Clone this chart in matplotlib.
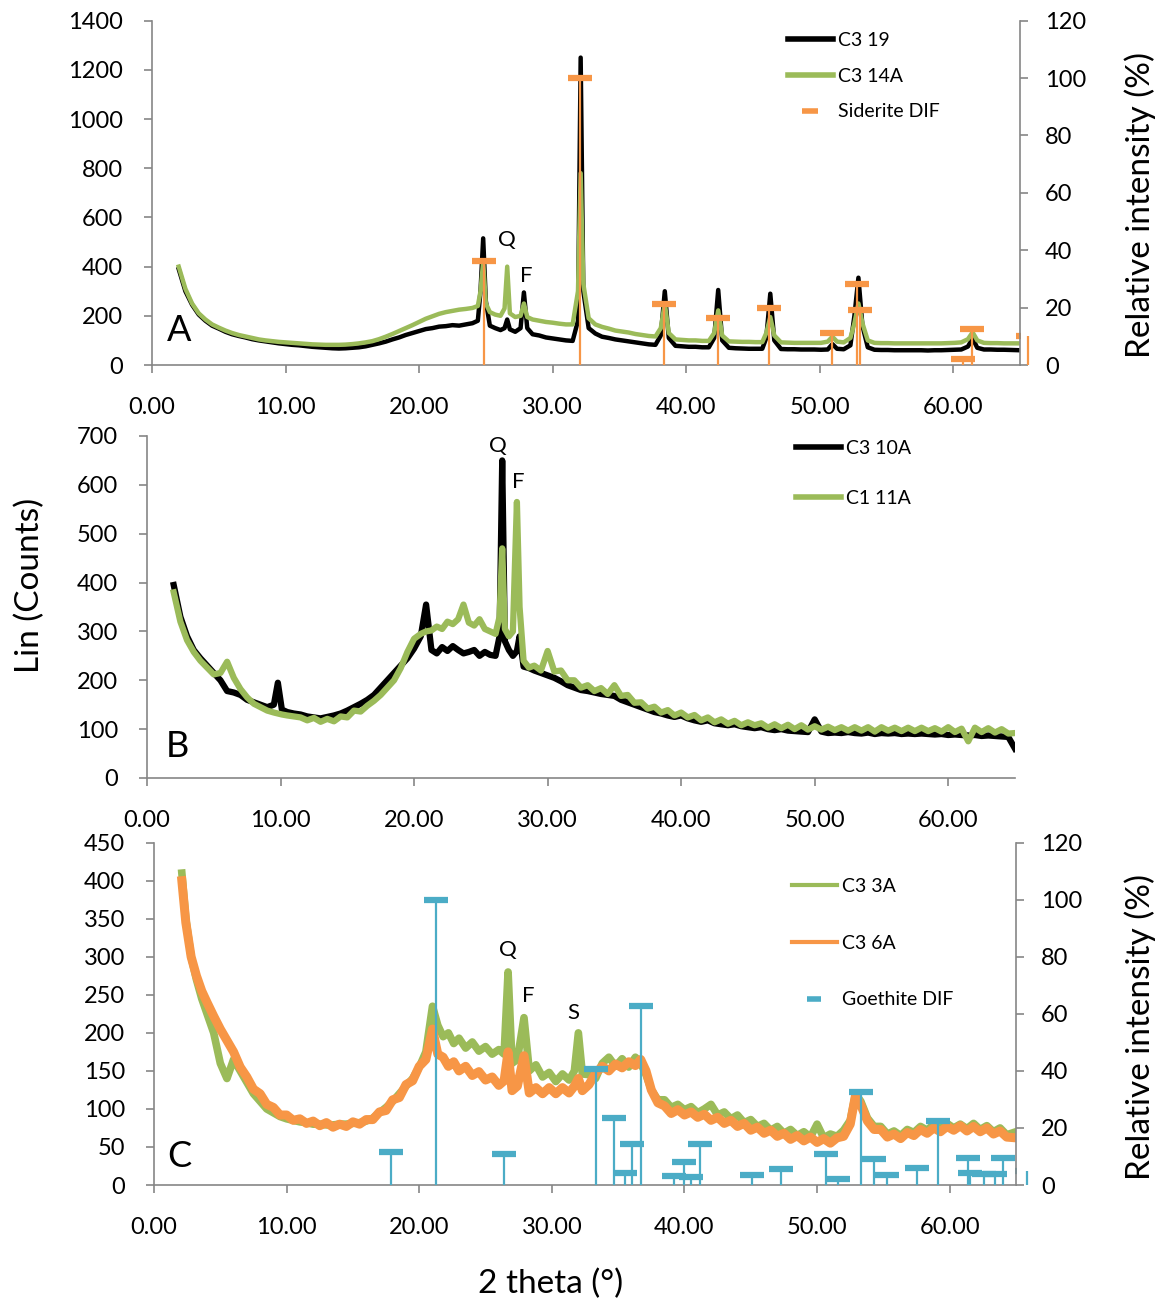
import matplotlib
matplotlib.use("Agg")
import matplotlib.pyplot as plt
import numpy as np
from matplotlib.lines import Line2D
from matplotlib.ticker import FormatStrFormatter

plt.rcParams["font.family"] = ["Lato", "DejaVu Sans"]

W, H = 1172, 1306
GREEN = "#9BBB59"
ORANGE = "#F79646"
CYAN = "#4BACC6"
GRAY = "#868686"

# ---------------- Panel A : C3 19 / C3 14A + siderite DIF ----------------
theta_a = [
    2.0, 2.5, 3.0, 3.5, 4.0, 4.5, 5.0, 5.5, 6.0, 6.5,
    7.0, 7.5, 8.0, 8.5, 9.0, 9.5, 10.0, 10.5, 11.0, 11.5,
    12.0, 12.5, 13.0, 13.5, 14.0, 14.5, 15.0, 15.5, 16.0, 16.5,
    17.0, 17.5, 18.0, 18.5, 19.0, 19.5, 20.0, 20.5, 21.0, 21.5,
    22.0, 22.5, 23.0, 23.5, 24.0, 24.4, 24.6, 24.8, 25.0, 25.3,
    25.7, 26.1, 26.4, 26.6, 26.8, 27.2, 27.6, 27.85, 28.1, 28.5,
    29.0, 29.5, 30.0, 30.5, 31.0, 31.5, 31.9, 32.1, 32.3, 32.7,
    33.2, 33.7, 34.2, 34.7, 35.2, 35.7, 36.2, 36.7, 37.2, 37.7,
    38.1, 38.4, 38.7, 39.2, 39.7, 40.2, 40.7, 41.2, 41.7, 42.1,
    42.4, 42.7, 43.2, 43.7, 44.2, 44.7, 45.2, 45.7, 46.0, 46.3,
    46.6, 47.1, 47.6, 48.1, 48.6, 49.1, 49.6, 50.1, 50.6, 50.95,
    51.3, 51.8, 52.3, 52.6, 52.9, 53.2, 53.6, 54.1, 54.6, 55.1,
    55.6, 56.1, 56.6, 57.1, 57.6, 58.1, 58.6, 59.1, 59.6, 60.1,
    60.6, 61.1, 61.45, 61.8, 62.3, 62.8, 63.3, 63.8, 64.3, 65.0,
]
c3_19 = [
    390, 300, 245, 205, 180, 160, 148, 135, 125, 118,
    112, 105, 100, 96, 92, 88, 85, 82, 80, 77,
    74, 72, 70, 68, 67, 68, 70, 72, 76, 82,
    88, 95, 104, 112, 122, 130, 138, 146, 150, 156,
    158, 162, 160, 165, 170, 180, 300, 515, 260, 160,
    150, 142, 150, 185, 145, 135, 150, 295, 150, 125,
    120, 112, 108, 104, 100, 98, 180, 1250, 300, 150,
    128, 115, 110, 104, 100, 96, 92, 88, 84, 82,
    120, 300, 110, 78, 76, 74, 74, 72, 72, 110,
    305, 100, 70, 68, 67, 66, 66, 66, 110, 290,
    100, 65, 64, 64, 63, 63, 63, 62, 63, 85,
    66, 64, 80, 200, 355, 160, 72, 62, 61, 61,
    60, 60, 60, 60, 60, 59, 60, 60, 61, 62,
    63, 75, 108, 70, 63, 63, 62, 62, 61, 60,
]
c3_14a = [
    400, 310, 250, 210, 185, 165, 152, 140, 130, 122,
    116, 110, 104, 100, 97, 94, 92, 90, 88, 86,
    84, 83, 82, 82, 82, 83, 85, 88, 92, 97,
    105, 115, 126, 138, 150, 162, 175, 188, 198, 208,
    215, 220, 225, 228, 232, 240, 300, 420, 250, 215,
    205, 200, 230, 400, 210, 195, 200, 250, 195, 185,
    180, 175, 172, 168, 165, 165, 300, 780, 330, 190,
    165, 155, 148, 140, 136, 132, 126, 122, 118, 116,
    150, 250, 130, 104, 102, 100, 100, 98, 98, 130,
    222, 120, 96, 95, 94, 94, 93, 93, 130, 195,
    120, 92, 91, 90, 90, 90, 90, 90, 95, 115,
    95, 92, 110, 170, 250, 170, 100, 90, 89, 89,
    88, 88, 88, 88, 88, 88, 88, 88, 89, 90,
    92, 105, 133, 100, 90, 89, 89, 88, 88, 88,
]
siderite_theta = [24.83, 32.08, 38.35, 42.42, 46.24, 50.95, 52.8, 53.0, 60.76, 61.44, 65.6]
siderite_rel = [36.4, 100, 21.4, 16.4, 19.7, 11.0, 28.3, 19.1, 2.0, 12.4, 10.0]

# ---------------- Panel B : C3 10A / C1 11A ----------------
theta_b = [
    2.0, 2.5, 3.0, 3.5, 4.0, 4.5, 5.0, 5.5, 6.0, 6.5,
    7.0, 7.5, 8.0, 8.5, 9.0, 9.5, 9.8, 10.1, 10.5, 11.0,
    11.5, 12.0, 12.5, 13.0, 13.5, 14.0, 14.5, 15.0, 15.5, 16.0,
    16.5, 17.0, 17.5, 18.0, 18.5, 19.0, 19.5, 20.0, 20.5, 20.9,
    21.3, 21.7, 22.1, 22.5, 22.9, 23.3, 23.7, 24.1, 24.5, 24.9,
    25.3, 25.7, 26.1, 26.4, 26.6, 26.8, 27.1, 27.4, 27.7, 27.9,
    28.2, 28.6, 29.0, 29.5, 30.0, 30.5, 31.0, 31.5, 32.0, 32.5,
    33.0, 33.5, 34.0, 34.5, 35.0, 35.5, 36.0, 36.5, 37.0, 37.5,
    38.0, 38.5, 39.0, 39.5, 40.0, 40.5, 41.0, 41.5, 42.0, 42.5,
    43.0, 43.5, 44.0, 44.5, 45.0, 45.5, 46.0, 46.5, 47.0, 47.5,
    48.0, 48.5, 49.0, 49.5, 50.0, 50.5, 51.0, 51.5, 52.0, 52.5,
    53.0, 53.5, 54.0, 54.5, 55.0, 55.5, 56.0, 56.5, 57.0, 57.5,
    58.0, 58.5, 59.0, 59.5, 60.0, 60.5, 61.0, 61.5, 62.0, 62.5,
    63.0, 63.5, 64.0, 64.5, 65.0,
]
c3_10a = [
    395, 330, 290, 262, 245, 230, 215, 200, 178, 175,
    170, 160, 155, 150, 145, 150, 195, 140, 135, 132,
    130, 126, 124, 122, 125, 128, 132, 138, 145, 152,
    160, 170, 185, 200, 215, 230, 245, 265, 290, 355,
    262, 255, 268, 260, 270, 262, 255, 258, 262, 250,
    258, 252, 250, 290, 650, 280, 262, 250, 260, 290,
    228, 225, 220, 215, 210, 205, 198, 190, 185, 180,
    178, 175, 172, 170, 168, 160, 155, 150, 145, 140,
    135, 132, 128, 125, 128, 122, 118, 115, 118, 112,
    110, 108, 110, 106, 104, 102, 104, 100, 98, 100,
    97, 96, 95, 94, 120, 95, 92, 93, 92, 94,
    92, 91, 93, 90, 92, 91, 92, 90, 91, 90,
    91, 90, 89, 90, 88, 89, 88, 87, 88, 86,
    87, 86, 85, 84, 60,
]
c1_11a = [
    380, 320, 282, 258, 240, 226, 212, 215, 238, 205,
    182, 165, 152, 145, 138, 134, 132, 130, 128, 126,
    124, 118, 123, 115, 121, 116, 126, 124, 138, 136,
    148, 158, 170, 185, 200, 225, 258, 285, 295, 300,
    302, 310, 305, 320, 315, 325, 355, 318, 312, 325,
    305, 300, 295, 330, 470, 305, 290, 300, 565, 350,
    240, 226, 230, 220, 260, 218, 220, 200, 200, 185,
    190, 178, 184, 172, 190, 168, 170, 154, 155, 142,
    146, 134, 139, 128, 134, 124, 129, 118, 124, 114,
    120, 111, 117, 108, 114, 108, 112, 103, 110, 102,
    109, 100, 108, 99, 106, 99, 105, 98, 104, 97,
    104, 97, 104, 95, 104, 97, 103, 96, 103, 96,
    103, 96, 102, 95, 104, 94, 101, 75, 103, 94,
    102, 93, 100, 91, 92,
]

# ---------------- Panel C : C3 3A / C3 6A + goethite DIF ----------------
theta_c = [
    2.1, 2.4, 2.8, 3.2, 3.6, 4.0, 4.5, 5.0, 5.5, 6.0,
    6.5, 7.0, 7.5, 8.0, 8.5, 9.0, 9.5, 10.0, 10.5, 11.0,
    11.5, 12.0, 12.5, 13.0, 13.5, 14.0, 14.5, 15.0, 15.5, 16.0,
    16.5, 17.0, 17.5, 18.0, 18.5, 19.0, 19.5, 20.0, 20.5, 21.0,
    21.4, 21.8, 22.2, 22.6, 23.0, 23.5, 24.0, 24.5, 25.0, 25.5,
    26.0, 26.4, 26.7, 27.0, 27.4, 27.9, 28.3, 28.8, 29.3, 29.8,
    30.3, 30.8, 31.3, 31.7, 32.0, 32.3, 32.8, 33.3, 33.8, 34.3,
    34.8, 35.3, 35.8, 36.3, 36.7, 37.1, 37.5, 38.0, 38.5, 39.0,
    39.5, 40.0, 40.5, 41.0, 41.5, 42.0, 42.5, 43.0, 43.5, 44.0,
    44.5, 45.0, 45.5, 46.0, 46.5, 47.0, 47.5, 48.0, 48.5, 49.0,
    49.5, 50.0, 50.5, 51.0, 51.5, 52.0, 52.5, 52.9, 53.3, 53.8,
    54.3, 54.8, 55.3, 55.8, 56.3, 56.8, 57.3, 57.8, 58.3, 58.8,
    59.3, 59.8, 60.3, 60.8, 61.3, 61.8, 62.3, 62.8, 63.3, 63.8,
    64.3, 65.0,
]
c3_3a = [
    410, 350, 300, 270, 245, 225, 200, 160, 140, 165,
    150, 135, 120, 110, 100, 95, 90, 87, 85, 83,
    82, 80, 80, 79, 79, 80, 80, 81, 82, 84,
    88, 95, 102, 110, 120, 130, 140, 155, 175, 235,
    210, 195, 200, 186, 193, 180, 188, 176, 182, 172,
    178, 172, 280, 160, 165, 220, 150, 158, 142, 148,
    136, 146, 138, 150, 200, 146, 145, 140, 160, 168,
    156, 166, 155, 168, 160, 145, 125, 112, 112, 102,
    106, 99, 103, 95, 100, 106, 92, 96, 87, 92,
    82, 86, 77, 81, 72, 77, 68, 73, 65, 70,
    63, 80, 62, 67, 64, 72, 85, 120, 110, 88,
    77, 77, 67, 71, 65, 73, 69, 77, 72, 80,
    74, 81, 75, 80, 74, 81, 73, 78, 70, 75,
    66, 70,
]
c3_6a = [
    400, 345, 300, 275, 255, 240, 222, 205, 190, 175,
    155, 142, 126, 120, 106, 102, 92, 92, 85, 87,
    81, 84, 78, 82, 76, 80, 77, 83, 80, 86,
    86, 96, 98, 112, 115, 132, 137, 156, 165, 205,
    172, 168, 156, 162, 150, 156, 144, 149, 138, 142,
    131, 137, 175, 124, 130, 170, 121, 128, 120, 128,
    120, 128, 121, 130, 140, 124, 132, 147, 156, 150,
    159, 154, 162, 157, 165, 150, 125, 108, 104, 94,
    99, 92, 96, 89, 93, 85, 89, 81, 85, 77,
    81, 72, 76, 68, 72, 64, 68, 60, 65, 58,
    63, 56, 61, 55, 62, 64, 80, 118, 105, 84,
    73, 73, 63, 67, 61, 69, 65, 73, 68, 75,
    70, 77, 72, 78, 71, 77, 70, 75, 67, 71,
    63, 62,
]
goethite_theta = [17.9, 21.3, 26.4, 33.3, 34.7, 35.5, 36.05, 36.7, 39.2, 40.0,
                  40.5, 41.2, 45.1, 47.3, 50.7, 51.6, 53.3, 54.3, 55.3, 57.5,
                  59.1, 61.4, 61.5, 62.6, 63.4, 64.0, 65.8]
goethite_rel = [11.6, 100, 11.0, 40.8, 23.4, 4.3, 14.5, 62.7, 3.2, 8.2,
                2.8, 14.5, 3.4, 5.7, 11.0, 2.2, 32.7, 9.0, 3.5, 6.1,
                22.4, 9.6, 4.3, 3.7, 3.7, 9.6, 5.0]


def px_box(left, right, bottom, top):
    return [left / W, 1 - bottom / H, (right - left) / W, (bottom - top) / H]


def style_axes(ax, ymax, ystep):
    ax.set_xlim(0, 65)
    ax.set_ylim(0, ymax)
    ax.set_xticks(np.arange(0, 61, 10))
    ax.xaxis.set_major_formatter(FormatStrFormatter("%.2f"))
    ax.set_yticks(np.arange(0, ymax + 1, ystep))
    ax.set_facecolor("none")
    for s in ["top", "right"]:
        ax.spines[s].set_visible(False)
    for s in ["left", "bottom"]:
        ax.spines[s].set_color(GRAY)
        ax.spines[s].set_linewidth(1.2)
    ax.tick_params(axis="y", direction="out", length=6, width=1.2, color=GRAY,
                   labelsize=17, pad=15)
    ax.tick_params(axis="x", direction="out", length=6, width=1.2, color=GRAY,
                   labelsize=17, pad=17)


def add_dif_axis(ax, theta, rel, color):
    ax2 = ax.twinx()
    ax2.set_ylim(0, 120)
    ax2.set_yticks(np.arange(0, 121, 20))
    for s in ["top", "left", "bottom"]:
        ax2.spines[s].set_visible(False)
    ax2.spines["right"].set_color(GRAY)
    ax2.spines["right"].set_linewidth(1.2)
    ax2.tick_params(axis="y", direction="out", length=6, width=1.2, color=GRAY,
                    labelsize=17, pad=12)
    ax2.vlines(theta, 0, rel, color=color, lw=1.6, clip_on=False)
    ax2.plot(theta, rel, ls="none", marker="_", ms=17, mew=4.5, color=color)
    return ax2


fig = plt.figure(figsize=(W / 100, H / 100), dpi=100)

# ---- A ----
ax_a = fig.add_axes(px_box(152, 1020, 365, 20.7))
style_axes(ax_a, 1400, 200)
ax_a.plot(theta_a, c3_19, color="black", lw=3.2, label="C3 19")
ax_a.plot(theta_a, c3_14a, color=GREEN, lw=3.2, label="C3 14A")
ax_a2 = add_dif_axis(ax_a, siderite_theta, siderite_rel, ORANGE)
ax_a.text(26.6, 508, "Q", fontsize=16, ha="center", va="center")
ax_a.text(28.0, 362, "F", fontsize=16, ha="center", va="center")
ax_a.text(2.0, 142, "A", fontsize=26, ha="center", va="center")
h_a = [Line2D([], [], color="black", lw=4),
       Line2D([], [], color=GREEN, lw=4),
       Line2D([], [], color=ORANGE, ls="none", marker="_", ms=12, mew=4)]
ax_a2.legend(h_a, ["C3 19", "C3 14A", "Siderite DIF"], loc="upper left",
             bbox_to_anchor=(788 / W, 1 - 32 / H), bbox_transform=fig.transFigure,
             frameon=False, fontsize=14, borderpad=0, borderaxespad=0,
             handlelength=2.3, handletextpad=0.25, labelspacing=0.96)

# ---- B ----
ax_b = fig.add_axes(px_box(147, 1015, 778, 436))
style_axes(ax_b, 700, 100)
ax_b.plot(theta_b, c3_10a, color="black", lw=4.5, label="C3 10A")
ax_b.plot(theta_b, c1_11a, color=GREEN, lw=4.5, label="C1 11A")
ax_b.text(26.3, 679, "Q", fontsize=16, ha="center", va="center")
ax_b.text(27.8, 605, "F", fontsize=16, ha="center", va="center")
ax_b.text(2.3, 65, "B", fontsize=26, ha="center", va="center")
h_b = [Line2D([], [], color="black", lw=4),
       Line2D([], [], color=GREEN, lw=4)]
ax_b.legend(h_b, ["C3 10A", "C1 11A"], loc="upper left",
            bbox_to_anchor=(796 / W, 1 - 440 / H),
            bbox_transform=fig.transFigure, frameon=False, fontsize=14,
            borderpad=0, borderaxespad=0, handlelength=2.3,
            handletextpad=0.25, labelspacing=1.71)

# ---- C ----
ax_c = fig.add_axes(px_box(154, 1016, 1185, 842.7))
style_axes(ax_c, 450, 50)
ax_c.plot(theta_c, c3_3a, color=GREEN, lw=5.5, label="C3 3A")
ax_c.plot(theta_c, c3_6a, color=ORANGE, lw=6.5, label="C3 6A")
ax_c2 = add_dif_axis(ax_c, goethite_theta, goethite_rel, CYAN)
ax_c.text(26.7, 309, "Q", fontsize=16, ha="center", va="center")
ax_c.text(28.2, 248, "F", fontsize=16, ha="center", va="center")
ax_c.text(31.6, 226, "S", fontsize=16, ha="center", va="center")
ax_c.text(1.9, 37, "C", fontsize=26, ha="center", va="center")
h_c = [Line2D([], [], color=GREEN, lw=3),
       Line2D([], [], color=ORANGE, lw=3),
       Line2D([], [], color=CYAN, ls="none", marker="_", ms=10, mew=4)]
ax_c2.legend(h_c, ["C3 3A", "C3 6A", "Goethite DIF"], loc="upper left",
             bbox_to_anchor=(792 / W, 1 - 878 / H), bbox_transform=fig.transFigure,
             frameon=False, fontsize=14, borderpad=0, borderaxespad=0,
             handlelength=2.3, handletextpad=0.25, labelspacing=2.04)

# ---- shared labels ----
fig.text(30 / W, 1 - 585 / H, "Lin (Counts)", fontsize=24, rotation=90,
         ha="center", va="center")
fig.text(1140 / W, 1 - 205 / H, "Relative intensity (%)", fontsize=24,
         rotation=90, ha="center", va="center")
fig.text(1140 / W, 1 - 1027 / H, "Relative intensity (%)", fontsize=24,
         rotation=90, ha="center", va="center")
fig.text(551 / W, 1 - 1284 / H, "2 theta (°)", fontsize=24, ha="center",
         va="center")

fig.savefig("out.png", dpi=100)
